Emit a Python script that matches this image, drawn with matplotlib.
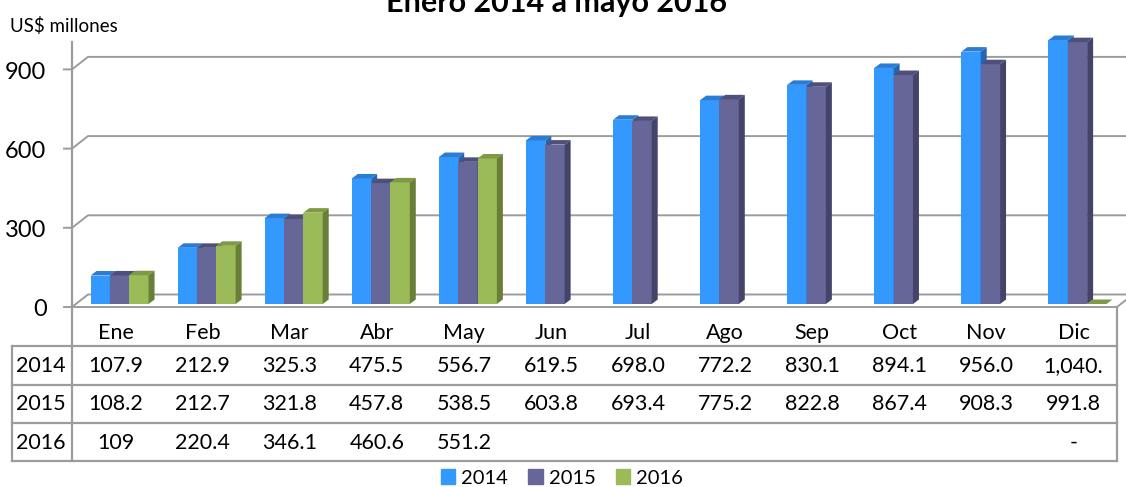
import numpy as np
import matplotlib
matplotlib.use("Agg")
import matplotlib.pyplot as plt
import matplotlib.transforms as mtransforms
from matplotlib.patches import Polygon, Patch

plt.rcParams['font.family'] = ['Lato', 'DejaVu Sans']

# data
months = ["Ene", "Feb", "Mar", "Abr", "May", "Jun", "Jul", "Ago", "Sep", "Oct", "Nov", "Dic"]
years = ["2014", "2015", "2016"]
v2014 = [107.9, 212.9, 325.3, 475.5, 556.7, 619.5, 698.0, 772.2, 830.1, 894.1, 956.0, 1040.0]
v2015 = [108.2, 212.7, 321.8, 457.8, 538.5, 603.8, 693.4, 775.2, 822.8, 867.4, 908.3, 991.8]
v2016 = [109, 220.4, 346.1, 460.6, 551.2, np.nan, np.nan, np.nan, np.nan, np.nan, np.nan, 0]
t2014 = ["107.9", "212.9", "325.3", "475.5", "556.7", "619.5", "698.0", "772.2", "830.1", "894.1", "956.0", "1,040."]
t2015 = ["108.2", "212.7", "321.8", "457.8", "538.5", "603.8", "693.4", "775.2", "822.8", "867.4", "908.3", "991.8"]
t2016 = ["109", "220.4", "346.1", "460.6", "551.2", "", "", "", "", "", "", "-"]
yticks = [0, 300, 600, 900]
YMAX = 1000

front = ["#3399FF", "#666699", "#9BBB59"]
topc = ["#2B7CD3", "#4F4F7C", "#7E9A45"]
sidec = ["#2367B4", "#44446A", "#687F38"]
GRID = "#9C9C9C"

W, H = 1126, 487
fig = plt.figure(figsize=(W / 100, H / 100), dpi=100)
ov = fig.add_axes([0, 0, 1, 1])
ov.set_xlim(0, W)
ov.set_ylim(H, 0)
ov.axis('off')

# front frame of the plot, in pixels
X0, X1 = 72, 1117
Y0, YT = 307, 43
ax = fig.add_axes([X0 / W, 1 - Y0 / H, (X1 - X0) / W, (Y0 - YT) / H])
ax.set_xlim(0, 12)
ax.set_ylim(0, YMAX)
ax.axis('off')
ax.patch.set_alpha(0)

px_x = 12 / (X1 - X0)
px_y = YMAX / (Y0 - YT)
wdx, wdy = 16 * px_x, 12.5 * px_y      # back wall offset
bdx, bdy = 4 * px_x, 3 * px_y          # bar placement offset
ddx, ddy = 6 * px_x, 4.5 * px_y        # bar depth

# back wall gridlines, diagonals and ticks
for v in yticks:
    ax.plot([-8 * px_x, 0, wdx, 12 + wdx + 1], [v, v, v + wdy, v + wdy],
            color=GRID, lw=1.4, clip_on=False, zorder=1)
ax.plot([0, 12, 12 + wdx], [0, 0, wdy], color=GRID, lw=1.4, clip_on=False, zorder=1)

# bars
bw = 0.222
for k, vals in enumerate([v2014, v2015, v2016]):
    vals = np.array(vals, dtype=float)
    xl = np.arange(12) + 0.5 - 1.5 * bw + k * bw + bdx
    h = np.minimum(vals, YMAX)
    ok = ~np.isnan(h)
    z = 3 + k * 0.1
    ax.bar(xl[ok], h[ok], width=bw, bottom=bdy, align='edge', color=front[k],
           clip_on=False, zorder=z, linewidth=0)
    for x0, hh in zip(xl[ok], h[ok]):
        x1 = x0 + bw
        t = bdy + hh
        ax.add_patch(Polygon([(x0, t), (x1, t), (x1 + ddx, t + ddy), (x0 + ddx, t + ddy)],
                             closed=True, color=topc[k], lw=0, clip_on=False, zorder=z))
        if hh > 0:
            ax.add_patch(Polygon([(x1, bdy), (x1, t), (x1 + ddx, t + ddy), (x1 + ddx, bdy + ddy)],
                                 closed=True, color=sidec[k], lw=0, clip_on=False, zorder=z))

# y tick labels
ylab_tr = mtransforms.blended_transform_factory(ov.transData, ax.transData) + \
    mtransforms.ScaledTranslation(0, -9.5 / 100, fig.dpi_scale_trans)
for v in yticks:
    ax.text(46.5, v, f"{v}", transform=ylab_tr, ha='right', va='baseline', fontsize=17,
            color="#000000")

# data table
ov.plot([X0, X0], [42, 461], color=GRID, lw=1.6, zorder=1)
ov.plot([X1, X1], [Y0, 461], color=GRID, lw=1.6, zorder=1)
ov.plot([12, 12], [346, 461], color=GRID, lw=1.6, zorder=1)
for yy in [346, 384.5, 423, 461]:
    ov.plot([12, X1], [yy, yy], color=GRID, lw=1.6, zorder=1)

col_tr = mtransforms.blended_transform_factory(ax.transData, ov.transData)
for i, m in enumerate(months):
    ax.text(i + 0.5, 339, m, transform=col_tr, ha='center', va='baseline', fontsize=15.5)
for labels, base, yr in zip([t2014, t2015, t2016], [372, 410.5, 449], years):
    ov.text(41, base, yr, ha='center', va='baseline', fontsize=15.5)
    for i, s in enumerate(labels):
        ax.text(i + 0.5, base, s, transform=col_tr, ha='center', va='baseline', fontsize=15.5)

# titles
ov.text(556, 12, "Enero 2014 a mayo 2016", ha='center', va='baseline', fontsize=22,
        fontweight='bold')
ov.text(10, 31.7, "US$ millones", ha='left', va='baseline', fontsize=13.5)

# legend
fig.legend(handles=[Patch(color=c) for c in front], labels=years, loc='center',
           bbox_to_anchor=(562 / W, 1 - 478 / H), ncol=3, frameon=False, fontsize=14.5,
           handlelength=0.7, handleheight=0.7, handletextpad=0.3, columnspacing=1.0,
           borderpad=0, borderaxespad=0)

fig.savefig("out.png", dpi=100)
